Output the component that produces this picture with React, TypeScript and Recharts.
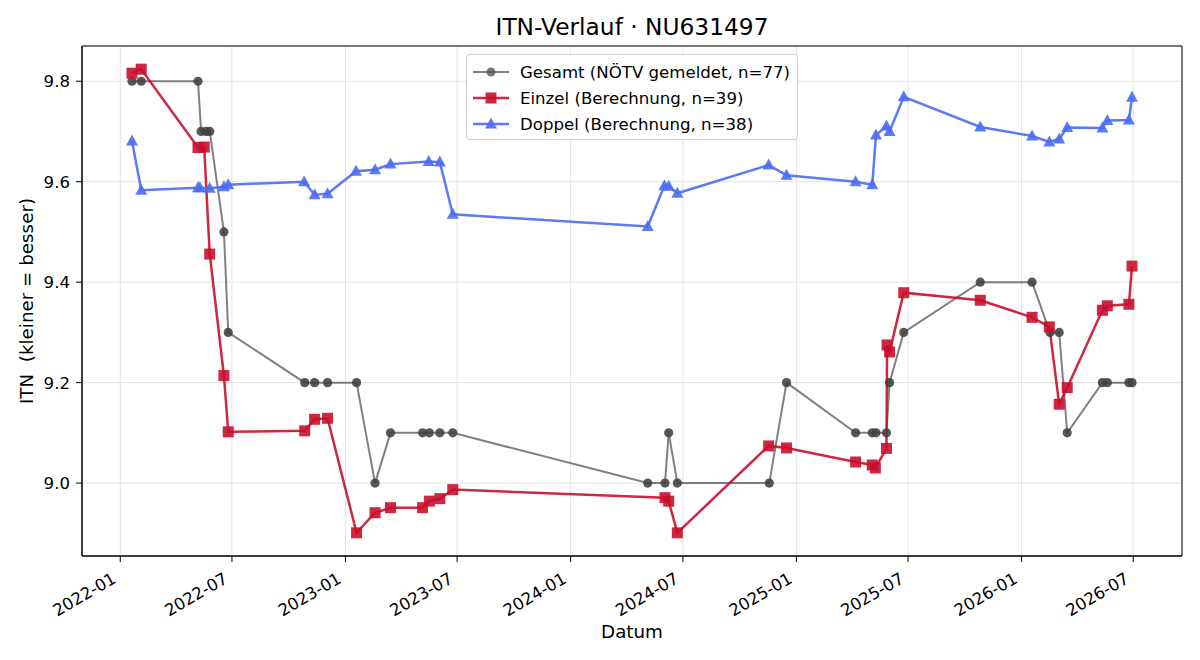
import React from 'react';
import { LineChart, Line, XAxis, YAxis, CartesianGrid, ReferenceArea } from 'recharts';

const gesamtDates = [
  '2022-01-20', '2022-02-04', '2022-05-07', '2022-05-12', '2022-05-20', '2022-05-26', '2022-06-18', '2022-06-25',
  '2022-10-27', '2022-11-12', '2022-12-03', '2023-01-19', '2023-02-18', '2023-03-15', '2023-05-06', '2023-05-17',
  '2023-06-03', '2023-06-24', '2024-05-05', '2024-06-02', '2024-06-08', '2024-06-22', '2024-11-18', '2024-12-16',
  '2025-04-07', '2025-05-04', '2025-05-10', '2025-05-27', '2025-06-01', '2025-06-24', '2025-10-26', '2026-01-18',
  '2026-02-16', '2026-03-03', '2026-03-16', '2026-05-12', '2026-05-20', '2026-06-24', '2026-06-29',
];
const gesamtValues = [
  9.8, 9.8, 9.8, 9.7, 9.7, 9.7, 9.5, 9.3,
  9.2, 9.2, 9.2, 9.2, 9.0, 9.1, 9.1, 9.1,
  9.1, 9.1, 9.0, 9.0, 9.1, 9.0, 9.0, 9.2,
  9.1, 9.1, 9.1, 9.1, 9.2, 9.3, 9.4, 9.4,
  9.3, 9.3, 9.1, 9.2, 9.2, 9.2, 9.2,
];

const einzelDates = [
  '2022-01-20', '2022-02-04', '2022-05-07', '2022-05-17', '2022-05-26', '2022-06-18', '2022-06-25', '2022-10-27',
  '2022-11-12', '2022-12-03', '2023-01-19', '2023-02-18', '2023-03-15', '2023-05-06', '2023-05-17', '2023-06-03',
  '2023-06-24', '2024-06-02', '2024-06-08', '2024-06-22', '2024-11-17', '2024-12-16', '2025-04-07', '2025-05-04',
  '2025-05-09', '2025-05-27', '2025-05-28', '2025-06-01', '2025-06-24', '2025-10-26', '2026-01-18', '2026-02-15',
  '2026-03-03', '2026-03-16', '2026-05-12', '2026-05-20', '2026-06-24', '2026-06-29',
];
const einzelValues = [
  9.816, 9.824, 9.668, 9.669, 9.456, 9.214, 9.102, 9.104,
  9.127, 9.129, 8.901, 8.941, 8.951, 8.951, 8.964, 8.969,
  8.987, 8.971, 8.964, 8.901, 9.074, 9.07, 9.042, 9.036,
  9.03, 9.069, 9.275, 9.261, 9.379, 9.364, 9.33, 9.311,
  9.157, 9.19, 9.344, 9.353, 9.356, 9.432,
];

const doppelDates = [
  '2022-01-20', '2022-02-04', '2022-05-07', '2022-05-10', '2022-05-26', '2022-06-18', '2022-06-25', '2022-10-26',
  '2022-11-12', '2022-12-03', '2023-01-18', '2023-02-18', '2023-03-15', '2023-05-16', '2023-06-03', '2023-06-24',
  '2024-05-05', '2024-06-01', '2024-06-08', '2024-06-22', '2024-11-17', '2024-12-16', '2025-04-07', '2025-05-04',
  '2025-05-10', '2025-05-27', '2025-06-01', '2025-06-24', '2025-10-26', '2026-01-18', '2026-02-15', '2026-03-03',
  '2026-03-16', '2026-05-12', '2026-05-20', '2026-06-24', '2026-06-29',
];
const doppelValues = [
  9.681, 9.583, 9.588, 9.588, 9.587, 9.59, 9.594, 9.6,
  9.574, 9.576, 9.621, 9.624, 9.635, 9.64, 9.639, 9.535,
  9.511, 9.592, 9.591, 9.577, 9.633, 9.613, 9.6, 9.594,
  9.693, 9.711, 9.7, 9.769, 9.709, 9.691, 9.679, 9.685,
  9.708, 9.707, 9.722, 9.723, 9.768,
];

const xTickLabels = ['2022-01', '2022-07', '2023-01', '2023-07', '2024-01', '2024-07', '2025-01', '2025-07', '2026-01', '2026-07'];
const yTicks = [9.0, 9.2, 9.4, 9.6, 9.8];

const DAY = 86400000;
const toT = (s: string) => Date.parse(s.length === 7 ? s + '-01' : s) / DAY;

const toRows = (dates: string[], vals: number[]) => dates.map((d, i) => ({ t: toT(d), v: vals[i] }));
const gesamt = toRows(gesamtDates, gesamtValues);
const einzel = toRows(einzelDates, einzelValues);
const doppel = toRows(doppelDates, doppelValues);

// matplotlib-style 5% margins
const allT = [...gesamt, ...einzel, ...doppel].map((r) => r.t);
const allV = [...gesamt, ...einzel, ...doppel].map((r) => r.v);
const tMin = Math.min(...allT), tMax = Math.max(...allT);
const vMin = Math.min(...allV), vMax = Math.max(...allV);
const xDomain = [tMin - (tMax - tMin) * 0.05, tMax + (tMax - tMin) * 0.05];
const yDomain = [vMin - (vMax - vMin) * 0.05, vMax + (vMax - vMin) * 0.05];
const xTicks = xTickLabels.map(toT);

const FONT = '"DejaVu Sans", sans-serif';
const GRAY = '#555555';
const RED = '#c8102e';
const BLUE = '#4a6cf4';

const Circle = (p: any) => (
  <circle key={p.index} cx={p.cx} cy={p.cy} r={4.6} fill="#404040" fillOpacity={0.88} />
);
const Square = (p: any) => (
  <rect key={p.index} x={p.cx - 5.5} y={p.cy - 5.5} width={11} height={11} fill={RED} fillOpacity={0.9} />
);
const Tri = (p: any) => (
  <polygon
    key={p.index}
    points={`${p.cx},${p.cy - 6.5} ${p.cx - 6},${p.cy + 4.5} ${p.cx + 6},${p.cy + 4.5}`}
    fill={BLUE}
    fillOpacity={0.9}
  />
);

const XTick = ({ x, y, payload }: any) => {
  const i = xTicks.indexOf(payload.value);
  const ax = x - 3;
  const ay = y + 18;
  return (
    <text
      x={ax}
      y={ay}
      transform={`rotate(-30 ${ax} ${ay})`}
      textAnchor="end"
      fontSize={16.6}
      fontFamily={FONT}
      fill="#000"
    >
      {i >= 0 ? xTickLabels[i] : ''}
    </text>
  );
};

const legendItems = [
  { label: 'Gesamt (NÖTV gemeldet, n=77)', color: GRAY, kind: 'c' },
  { label: 'Einzel (Berechnung, n=39)', color: RED, kind: 's' },
  { label: 'Doppel (Berechnung, n=38)', color: BLUE, kind: 't' },
];

const LegendBox = () => (
  <div
    style={{
      position: 'absolute', left: 466, top: 54, width: 330, height: 84,
      border: '1px solid #d0d0d0', borderRadius: 4, background: 'rgba(255,255,255,0.85)',
      fontFamily: FONT, fontSize: 16.6,
    }}
  >
    {legendItems.map((it, i) => (
      <div key={it.label} style={{ position: 'absolute', left: 5, top: 4 + i * 26, height: 26, display: 'flex', alignItems: 'center' }}>
        <svg width={40} height={20} style={{ marginRight: 8 }}>
          <line x1={1} y1={10} x2={37} y2={10} stroke={it.color} strokeWidth={it.kind === 'c' ? 2 : 2.5} strokeOpacity={it.kind === 'c' ? 0.75 : 0.9} />
          {it.kind === 'c' && <circle cx={19} cy={10} r={4.5} fill="#555" fillOpacity={0.8} />}
          {it.kind === 's' && <rect x={13.5} y={4.5} width={11} height={11} fill={RED} fillOpacity={0.9} />}
          {it.kind === 't' && <polygon points="19,3.5 13,14.5 25,14.5" fill={BLUE} fillOpacity={0.9} />}
        </svg>
        <span style={{ whiteSpace: 'nowrap' }}>{it.label}</span>
      </div>
    ))}
  </div>
);

export default function App() {
  return (
    <div style={{ position: 'absolute', left: 0, top: 0, width: 1200, height: 660, background: '#fff', fontFamily: FONT }}>
      <div style={{ position: 'absolute', left: 82, width: 1100, top: 13, textAlign: 'center', fontSize: 23.3 }}>
        ITN-Verlauf · NU631497
      </div>
      <div
        style={{
          position: 'absolute', left: 26, top: 301, fontSize: 18.3, whiteSpace: 'pre',
          transform: 'translate(-50%, -50%) rotate(-90deg)',
        }}
      >
        ITN  (kleiner = besser)
      </div>
      <div style={{ position: 'absolute', left: 82, width: 1100, top: 621, textAlign: 'center', fontSize: 18.3 }}>
        Datum
      </div>
      <LineChart width={1200} height={660} margin={{ top: 46, right: 18, left: 0, bottom: 0 }}>
        <CartesianGrid stroke="#e3e3e3" strokeWidth={1} />
        <XAxis
          type="number"
          dataKey="t"
          domain={xDomain}
          ticks={xTicks}
          allowDataOverflow
          height={104}
          tick={<XTick />}
          tickSize={6}
          tickLine={{ stroke: '#000' }}
          axisLine={{ stroke: '#000' }}
        />
        <YAxis
          type="number"
          dataKey="v"
          domain={yDomain}
          ticks={yTicks}
          allowDataOverflow
          width={82}
          tickSize={6}
          tickMargin={6}
          tickFormatter={(v: number) => v.toFixed(1)}
          tick={{ fill: '#000', fontSize: 16.6, fontFamily: FONT }}
          tickLine={{ stroke: '#000' }}
          axisLine={{ stroke: '#000' }}
        />
        <ReferenceArea x1={xDomain[0]} x2={xDomain[1]} y1={yDomain[0]} y2={yDomain[1]} fill="none" stroke="#000" strokeOpacity={1} fillOpacity={0} />
        <Line data={gesamt} dataKey="v" stroke={GRAY} strokeOpacity={0.75} strokeWidth={2} dot={Circle} activeDot={false} isAnimationActive={false} />
        <Line data={einzel} dataKey="v" stroke={RED} strokeOpacity={0.9} strokeWidth={2.5} dot={Square} activeDot={false} isAnimationActive={false} />
        <Line data={doppel} dataKey="v" stroke={BLUE} strokeOpacity={0.9} strokeWidth={2.5} dot={Tri} activeDot={false} isAnimationActive={false} />
      </LineChart>
      <LegendBox />
    </div>
  );
}
